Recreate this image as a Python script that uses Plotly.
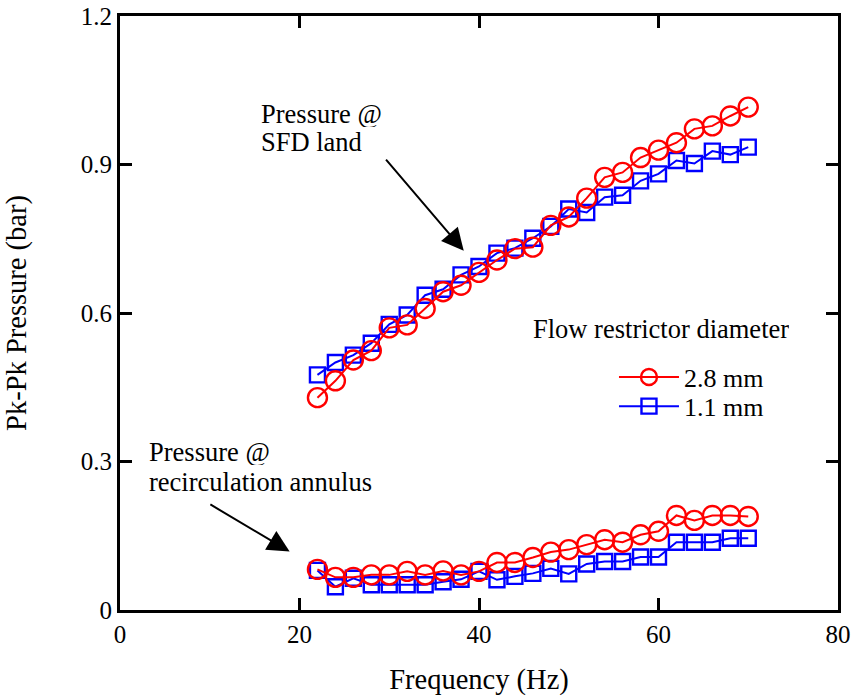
import plotly.graph_objects as go

freq = [22, 24, 26, 28, 30, 32, 34, 36, 38, 40, 42, 44, 46, 48, 50, 52, 54, 56, 58, 60, 62, 64, 66, 68, 70]

sfd_28 = [0.429, 0.463, 0.505, 0.524, 0.570, 0.576, 0.609, 0.643, 0.656, 0.682, 0.707, 0.730, 0.733,
          0.777, 0.794, 0.832, 0.874, 0.884, 0.914, 0.929, 0.944, 0.972, 0.978, 0.998, 1.016]
sfd_11 = [0.475, 0.500, 0.515, 0.539, 0.577, 0.596, 0.636, 0.648, 0.677, 0.694, 0.721, 0.731, 0.751,
          0.775, 0.810, 0.803, 0.834, 0.838, 0.867, 0.881, 0.908, 0.902, 0.927, 0.920, 0.935]
rec_28 = [0.082, 0.066, 0.066, 0.071, 0.071, 0.078, 0.071, 0.079, 0.071, 0.078, 0.096, 0.096, 0.106,
          0.117, 0.122, 0.132, 0.142, 0.137, 0.152, 0.159, 0.191, 0.181, 0.191, 0.191, 0.189]
rec_11 = [0.080, 0.047, 0.064, 0.051, 0.051, 0.051, 0.051, 0.057, 0.062, 0.078, 0.061, 0.068, 0.074,
          0.084, 0.073, 0.093, 0.098, 0.098, 0.107, 0.107, 0.137, 0.137, 0.137, 0.145, 0.145]

x_ticks = [0, 20, 40, 60, 80]
y_ticks = [0, 0.3, 0.6, 0.9, 1.2]
y_tick_text = ["0", "0.3", "0.6", "0.9", "1.2"]

FONT = "Liberation Serif, Times New Roman, serif"
RED = "#FF0000"
BLUE = "#0000FF"

fig = go.Figure()

def add(y, color, symbol, size, name, show, legend):
    fig.add_trace(go.Scatter(
        x=freq, y=y, mode="lines+markers", name=name, showlegend=show,
        legend=legend,
        line=dict(color=color, width=2),
        marker=dict(symbol=symbol, size=size, color=color,
                    line=dict(color=color, width=2.4)),
    ))

add(sfd_11, BLUE, "square-open", 15, "1.1 mm", False, "legend2")
add(sfd_28, RED, "circle-open", 19, "2.8 mm", True, "legend")
add(rec_11, BLUE, "square-open", 15, "1.1 mm", True, "legend2")
add(rec_28, RED, "circle-open", 19, "2.8 mm", False, "legend")

axis_common = dict(
    showline=True, linecolor="black", linewidth=3, mirror="ticks",
    ticks="inside", ticklen=12, tickwidth=2.5, tickcolor="black",
    showgrid=False, zeroline=False, automargin=False,
    tickfont=dict(family=FONT, size=25, color="black"),
)

fig.update_xaxes(range=[0, 80], tickvals=x_ticks, **axis_common,
                 title=dict(text="Frequency (Hz)", font=dict(family=FONT, size=28.5, color="black"), standoff=23))
fig.update_yaxes(range=[0, 1.2], tickvals=y_ticks, ticktext=y_tick_text, **axis_common,
                 title=dict(text="Pk-Pk Pressure (bar)", font=dict(family=FONT, size=28.5, color="black"), standoff=46))

ann_font = dict(family=FONT, size=26.5, color="black")
fig.add_annotation(x=38.3, y=0.726, ax=29.5, ay=0.913, xref="x", yref="y", axref="x", ayref="y",
                   text="", showarrow=True, arrowhead=2, arrowsize=2.2, arrowwidth=2, arrowcolor="black")
fig.add_annotation(x=18.9, y=0.118, ax=9.9, ay=0.215, xref="x", yref="y", axref="x", ayref="y",
                   text="", showarrow=True, arrowhead=2, arrowsize=2.2, arrowwidth=2, arrowcolor="black")

labels = [
    ("Pressure @", 15.5, 1.004),
    ("SFD land", 15.5, 0.947),
    ("Pressure @", 3.0, 0.320),
    ("recirculation annulus", 3.0, 0.260),
    ("Flow restrictor diameter", 45.8, 0.568),
]
for txt, lx, ly in labels:
    fig.add_annotation(x=lx, y=ly, xref="x", yref="y", xanchor="left", yanchor="middle", align="left",
                       text=txt, showarrow=False, font=ann_font, height=27, valign="middle")

leg_common = dict(xanchor="left", yanchor="middle", bgcolor="rgba(0,0,0,0)",
                  font=dict(family=FONT, size=26, color="black"), itemwidth=60)

fig.update_layout(
    width=856, height=696,
    margin=dict(l=120, r=18, t=16, b=86),
    paper_bgcolor="white", plot_bgcolor="white",
    font=dict(family=FONT, color="black"),
    legend=dict(x=0.688, y=0.392, **leg_common),
    legend2=dict(x=0.688, y=0.343, **leg_common),
)

fig.write_html("out.html")
